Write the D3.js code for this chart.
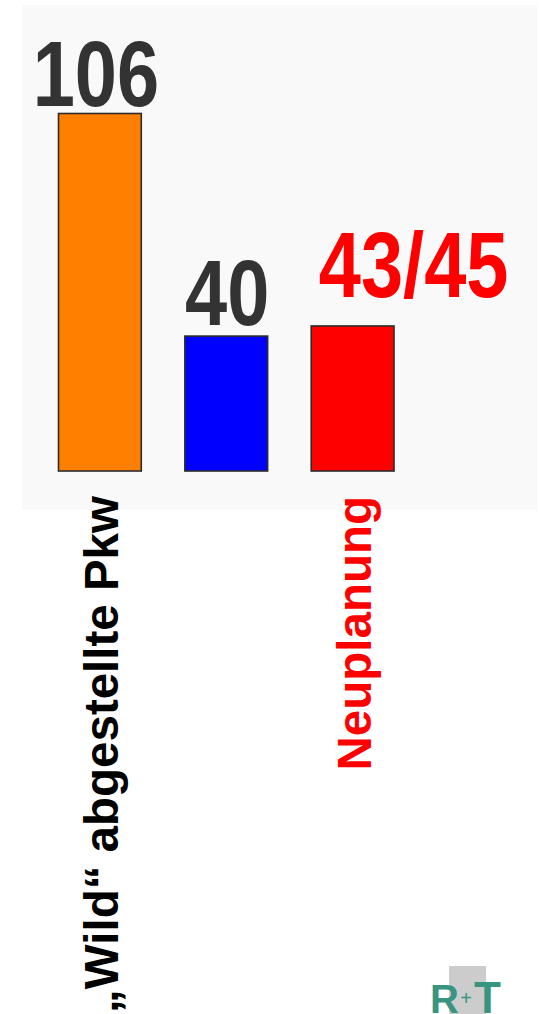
<!DOCTYPE html>
<html>
<head>
<meta charset="utf-8">
<script src="https://cdn.jsdelivr.net/npm/d3@7"></script>
<style>
  html, body { margin: 0; padding: 0; background: #ffffff; }
  svg { display: block; }
</style>
</head>
<body>
<script>
// Parking spaces: wildly parked cars vs. current and planned spaces
const categories  = ["„Wild“ abgestellte Pkw", "Bestand", "Neuplanung"];
const values      = [106, 40, 43];
const valueLabels = ["106", "40", "43/45"];
const axisLabels  = ["„Wild“ abgestellte Pkw", "", "Neuplanung"];
const barColors   = ["#ff8000", "#0000ff", "#ff0000"];
const valueColors = ["#333333", "#333333", "#ff0000"];
const axisColors  = ["#000000", "#000000", "#ff0000"];

// label nudges (layout only)
const valueDx = [-4, 1, 61];
const valueDy = [-8, -11, -29];

const W = 539, H = 1014;
const svg = d3.select("body").append("svg")
  .attr("width", W).attr("height", H);

// light panel behind the bars
svg.append("rect")
  .attr("x", 22).attr("y", 5)
  .attr("width", 515).attr("height", 505)
  .attr("fill", "#f9f9f9");

const x = d3.scaleBand()
  .domain(categories)
  .range([58.5, 394])
  .paddingInner(0.345)
  .paddingOuter(0);

const y = d3.scaleLinear()
  .domain([0, 106])
  .range([471, 113.5]);

const data = categories.map((c, i) => ({
  c, v: values[i], lab: valueLabels[i], ax: axisLabels[i],
  fill: barColors[i], vcol: valueColors[i], acol: axisColors[i],
  dx: valueDx[i], dy: valueDy[i]
}));

// bars
svg.append("g").selectAll("rect")
  .data(data).join("rect")
  .attr("x", d => x(d.c))
  .attr("y", d => y(d.v))
  .attr("width", x.bandwidth())
  .attr("height", d => y(0) - y(d.v))
  .attr("fill", d => d.fill)
  .attr("stroke", "#2b2b2b")
  .attr("stroke-width", 1.6);

// value labels, drawn in a narrow (horizontally condensed) bold face
svg.append("g").selectAll("text")
  .data(data).join("text")
  .attr("transform", d => `translate(${x(d.c) + x.bandwidth() / 2 + d.dx},${y(d.v) + d.dy}) scale(0.815,1)`)
  .attr("text-anchor", "middle")
  .attr("font-family", "'Liberation Sans Narrow', 'Liberation Sans', Arial, sans-serif")
  .attr("font-weight", "bold")
  .attr("font-size", 93)
  .attr("fill", d => d.vcol)
  .text(d => d.lab);

// rotated category labels under the bars
svg.append("g").selectAll("text")
  .data(data.filter(d => d.ax !== "")).join("text")
  .attr("transform", d => `translate(${x(d.c) + x.bandwidth() / 2 + 18},496) rotate(-90)`)
  .attr("text-anchor", "end")
  .attr("font-family", "'Liberation Sans', Arial, sans-serif")
  .attr("font-weight", "bold")
  .attr("font-size", 47.5)
  .attr("fill", d => d.acol)
  .text(d => d.ax);

// R+T mark, bottom right
const logo = svg.append("g");
logo.append("rect")
  .attr("x", 449).attr("y", 966)
  .attr("width", 37).attr("height", 48)
  .attr("fill", "#cccccc");
logo.append("text")
  .attr("x", 430).attr("y", 1013)
  .attr("font-family", "'Liberation Sans', Arial, sans-serif")
  .attr("font-weight", "bold").attr("font-size", 40)
  .attr("fill", "#3a9482").text("R");
logo.append("text")
  .attr("x", 466).attr("y", 1005)
  .attr("text-anchor", "middle")
  .attr("font-family", "'Liberation Sans', Arial, sans-serif")
  .attr("font-size", 20)
  .attr("fill", "#3a9482").text("+");
logo.append("text")
  .attr("x", 474).attr("y", 1013)
  .attr("font-family", "'Liberation Sans', Arial, sans-serif")
  .attr("font-weight", "bold").attr("font-size", 44)
  .attr("fill", "#3a9482").text("T");
</script>
</body>
</html>
